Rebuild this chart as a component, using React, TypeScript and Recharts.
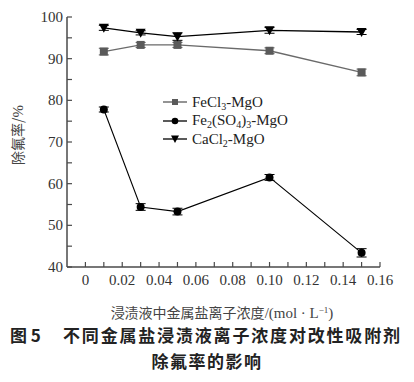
import React from "react";
import { LineChart, Line, XAxis, YAxis, ErrorBar } from "recharts";

const concentrations = [0.01, 0.03, 0.05, 0.1, 0.15];
const fecl3 = [91.7, 93.3, 93.3, 91.9, 86.7];
const fecl3Err = [0.8, 0.6, 0.6, 0.7, 0.8];
const fe2so4 = [77.8, 54.4, 53.3, 61.5, 43.4];
const fe2so4Err = [0.6, 0.8, 0.8, 0.7, 1.0];
const cacl2 = [97.4, 96.2, 95.3, 96.8, 96.4];
const cacl2Err = [0.6, 0.5, 0.9, 0.7, 0.6];

const xTicks = [0, 0.01, 0.02, 0.03, 0.04, 0.05, 0.06, 0.07, 0.08, 0.09, 0.1, 0.11, 0.12, 0.13, 0.14, 0.15, 0.16];
const yTicks = [40, 45, 50, 55, 60, 65, 70, 75, 80, 85, 90, 95, 100];

const data = concentrations.map((c, i) => ({
  c,
  fecl3: fecl3[i],
  fecl3Err: fecl3Err[i],
  fe2so4: fe2so4[i],
  fe2so4Err: fe2so4Err[i],
  cacl2: cacl2[i],
  cacl2Err: cacl2Err[i],
}));

const serif = "Liberation Serif, serif";
const cjk = "Noto Sans CJK SC, sans-serif";
const axisColor = "#4a4a4a";
const gray = "#5a5a5a";
const grayLine = "#6a6a6a";

function XTick(props: any) {
  const { x, y, payload } = props;
  const v = payload.value;
  const major = Math.round(v * 100) % 2 === 0;
  let label = "";
  if (major) label = v === 0 ? "0" : v.toFixed(2);
  return (
    <g>
      <line x1={x} x2={x} y1={y} y2={y - 5} stroke={axisColor} strokeWidth={1.2} />
      {major && (
        <text x={x} y={y + 18} textAnchor="middle" style={{ fontFamily: serif, fontSize: 15 }} fill="#333">
          {label}
        </text>
      )}
    </g>
  );
}

function YTick(props: any) {
  const { x, y, payload } = props;
  const v = payload.value;
  const major = v % 10 === 0;
  return (
    <g>
      <line x1={x} x2={x + 5} y1={y} y2={y} stroke={axisColor} strokeWidth={1.2} />
      {major && (
        <text x={x - 4} y={y + 5} textAnchor="end" style={{ fontFamily: serif, fontSize: 15 }} fill="#333">
          {v}
        </text>
      )}
    </g>
  );
}

const SquareDot = (props: any) => {
  const { cx, cy, index } = props;
  return <rect key={`s-${index}`} x={cx - 4} y={cy - 4} width={8} height={8} fill={gray} />;
};
const CircleDot = (props: any) => {
  const { cx, cy, index } = props;
  return <circle key={`c-${index}`} cx={cx} cy={cy} r={4} fill="#000" />;
};
const TriDot = (props: any) => {
  const { cx, cy, index } = props;
  return <path key={`t-${index}`} d={`M${cx - 5},${cy - 4} L${cx + 5},${cy - 4} L${cx},${cy + 5} Z`} fill="#000" />;
};

function LegendRow({ color, marker, children }: { color: string; marker: string; children: React.ReactNode }) {
  return (
    <div style={{ display: "flex", alignItems: "center", height: 18.5 }}>
      <svg width={26} height={14} style={{ marginRight: 3 }}>
        <line x1={0} x2={24} y1={7} y2={7} stroke={color} strokeWidth={1.3} />
        {marker === "square" && <rect x={9} y={4} width={6} height={6} fill={color} />}
        {marker === "circle" && <circle cx={12} cy={7} r={3.3} fill={color} />}
        {marker === "tri" && <path d="M8,3.5 L16,3.5 L12,11 Z" fill={color} />}
      </svg>
      <span style={{ fontFamily: serif, fontSize: 15, color: "#222", whiteSpace: "nowrap" }}>{children}</span>
    </div>
  );
}

const subStyle: React.CSSProperties = { fontSize: 10, verticalAlign: "-3px", lineHeight: 0 };

export default function App() {
  return (
    <div style={{ position: "absolute", left: 0, top: 0, width: 414, height: 382, background: "#fff" }}>
      <LineChart width={414} height={290} data={data} margin={{ top: 17, right: 34, left: 0, bottom: 0 }}>
        <XAxis
          dataKey="c"
          type="number"
          domain={[-0.01, 0.16]}
          ticks={xTicks}
          interval={0}
          height={23}
          tickSize={0}
          tickMargin={0}
          tickLine={false}
          tick={<XTick />}
          axisLine={{ stroke: axisColor, strokeWidth: 1.5 }}
        />
        <YAxis
          type="number"
          domain={[40, 100]}
          ticks={yTicks}
          interval={0}
          width={67}
          tickSize={0}
          tickMargin={0}
          tickLine={false}
          tick={<YTick />}
          axisLine={{ stroke: axisColor, strokeWidth: 1.5 }}
        />
        <Line dataKey="fecl3" stroke={grayLine} strokeWidth={1.3} dot={SquareDot} isAnimationActive={false}>
          <ErrorBar dataKey="fecl3Err" width={5} stroke={gray} strokeWidth={1} direction="y" />
        </Line>
        <Line dataKey="fe2so4" stroke="#000" strokeWidth={1.1} dot={CircleDot} isAnimationActive={false}>
          <ErrorBar dataKey="fe2so4Err" width={5} stroke="#000" strokeWidth={1} direction="y" />
        </Line>
        <Line dataKey="cacl2" stroke="#000" strokeWidth={1.3} dot={TriDot} isAnimationActive={false}>
          <ErrorBar dataKey="cacl2Err" width={5} stroke="#000" strokeWidth={1} direction="y" />
        </Line>
      </LineChart>

      <div style={{ position: "absolute", left: 163, top: 93 }}>
        <LegendRow color={gray} marker="square">
          FeCl<sub style={subStyle}>3</sub>-MgO
        </LegendRow>
        <LegendRow color="#000" marker="circle">
          Fe<sub style={subStyle}>2</sub>(SO<sub style={subStyle}>4</sub>)<sub style={subStyle}>3</sub>-MgO
        </LegendRow>
        <LegendRow color="#000" marker="tri">
          CaCl<sub style={subStyle}>2</sub>-MgO
        </LegendRow>
      </div>

      <div
        style={{
          position: "absolute",
          left: 17,
          top: 135,
          transform: "translate(-50%, -50%) rotate(-90deg)",
          whiteSpace: "nowrap",
          fontFamily: cjk,
          fontSize: 14,
          color: "#444",
        }}
      >
        除氟率/<span style={{ fontFamily: serif, fontSize: 15 }}>%</span>
      </div>

      <div
        style={{
          position: "absolute",
          left: 0,
          width: 444,
          top: 302,
          textAlign: "center",
          whiteSpace: "nowrap",
          fontFamily: cjk,
          fontSize: 14,
          color: "#444",
        }}
      >
        浸渍液中金属盐离子浓度<span style={{ fontFamily: serif, fontSize: 15 }}>/(mol · L<sup style={{ fontSize: 9, verticalAlign: "5px", lineHeight: 0 }}>−1</sup>)</span>
      </div>

      <svg width={414} height={60} style={{ position: "absolute", left: 0, top: 322 }}>
        <text x={10} y={20} style={{ fontFamily: cjk, fontWeight: 700, fontSize: 17 }} fill="#222">
          图 5
        </text>
        <text
          x={63}
          y={20}
          textLength={337}
          lengthAdjust="spacing"
          style={{ fontFamily: cjk, fontWeight: 700, fontSize: 17 }}
          fill="#222"
        >
          不同金属盐浸渍液离子浓度对改性吸附剂
        </text>
        <text
          x={207}
          y={46}
          textAnchor="middle"
          style={{ fontFamily: cjk, fontWeight: 700, fontSize: 17, letterSpacing: 1.5 }}
          fill="#222"
        >
          除氟率的影响
        </text>
      </svg>
    </div>
  );
}
